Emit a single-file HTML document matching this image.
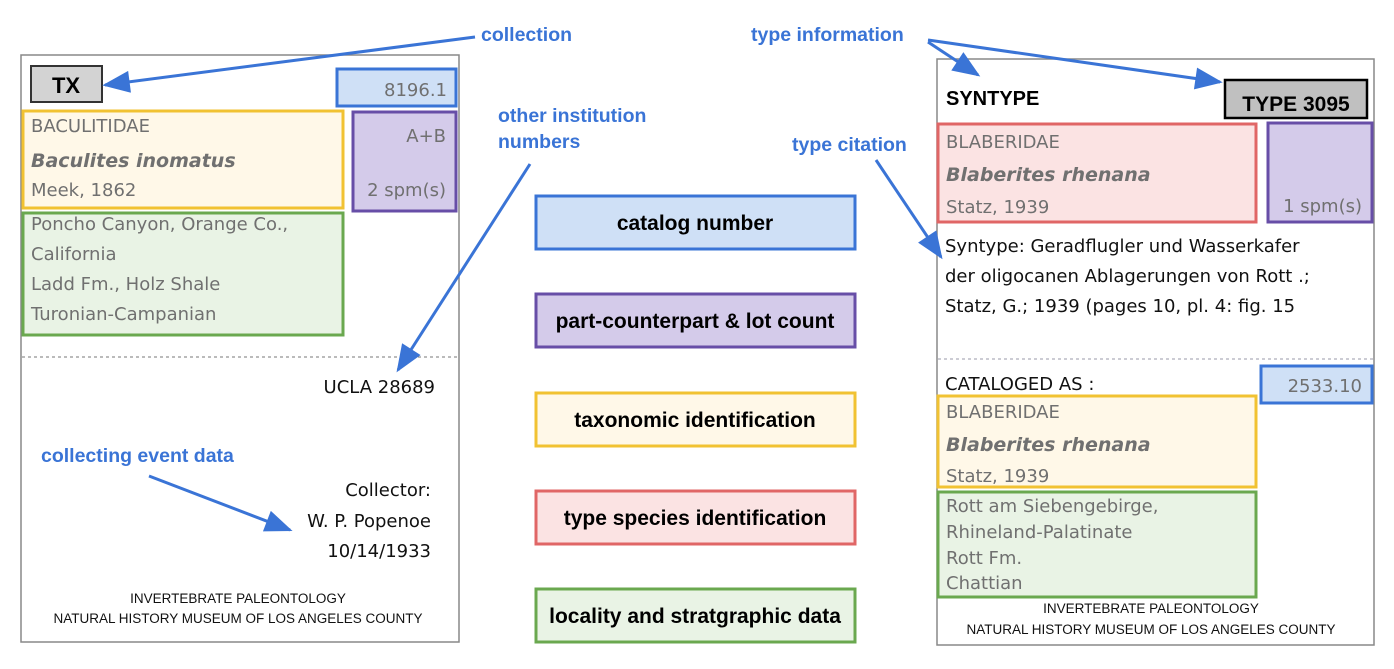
<!DOCTYPE html>
<html><head><style>
html,body{margin:0;padding:0;background:#fff}
svg{display:block}
.b{font-family:"Liberation Sans",sans-serif;font-weight:bold;fill:#3a74d6;font-size:19.5px}
.c{font-family:"Liberation Sans",sans-serif;font-weight:bold;fill:#000;font-size:21px}
.g{font-family:"DejaVu Sans","Liberation Sans",sans-serif;fill:#707070;font-size:18px}
.gi{font-family:"DejaVu Sans","Liberation Sans",sans-serif;fill:#707070;font-size:19px;font-weight:bold;font-style:italic}
.k{font-family:"DejaVu Sans","Liberation Sans",sans-serif;fill:#111;font-size:18px}
.f{font-family:"Liberation Sans",sans-serif;fill:#111;font-size:13.5px}
</style></head><body>
<svg width="1394" height="669" viewBox="0 0 1394 669" xmlns="http://www.w3.org/2000/svg">
<defs>
<marker id="m" viewBox="0 0 10 8" refX="9" refY="4" markerWidth="28" markerHeight="22" orient="auto" markerUnits="userSpaceOnUse"><path d="M0,0 L10,4 L0,8z" fill="#3a74d6"/></marker></defs>

<!-- left card -->
<rect x="21" y="55" width="438" height="587" fill="#fff" stroke="#888" stroke-width="1.5"/>
<rect x="31" y="66" width="71" height="36" fill="#d3d3d3" stroke="#333" stroke-width="2"/>
<text x="66" y="93" text-anchor="middle" font-family="Liberation Sans" font-weight="bold" font-size="22">TX</text>
<rect x="337" y="69" width="119" height="37" fill="#cfe0f6" stroke="#3a74d6" stroke-width="3"/>
<text x="447" y="96" text-anchor="end" class="g" fill="#606a7a" font-size="20">8196.1</text>
<rect x="23" y="111" width="320" height="97" fill="#fff8e8" stroke="#f1c232" stroke-width="3"/>
<text x="31" y="132" class="g">BACULITIDAE</text>
<text x="31" y="167" class="gi">Baculites inomatus</text>
<text x="31" y="196" class="g">Meek, 1862</text>
<rect x="353" y="112" width="103" height="99" fill="#d4cbea" stroke="#674ea7" stroke-width="3"/>
<text x="446" y="142" text-anchor="end" class="g">A+B</text>
<text x="446" y="196" text-anchor="end" class="g">2 spm(s)</text>
<rect x="23" y="213" width="320" height="122" fill="#e9f3e5" stroke="#6aa84f" stroke-width="3"/>
<text x="31" y="230" class="g">Poncho Canyon, Orange Co.,</text>
<text x="31" y="260" class="g">California</text>
<text x="31" y="290" class="g">Ladd Fm., Holz Shale</text>
<text x="31" y="320" class="g">Turonian-Campanian</text>
<line x1="22" y1="357" x2="458" y2="357" stroke="#777" stroke-dasharray="3,3"/>
<text x="435" y="393" text-anchor="end" class="k">UCLA 28689</text>
<text x="431" y="496" text-anchor="end" class="k">Collector:</text>
<text x="431" y="527" text-anchor="end" class="k">W. P. Popenoe</text>
<text x="431" y="557" text-anchor="end" class="k">10/14/1933</text>
<text x="238" y="603" text-anchor="middle" class="f">INVERTEBRATE PALEONTOLOGY</text>
<text x="238" y="623" text-anchor="middle" class="f">NATURAL HISTORY MUSEUM OF LOS ANGELES COUNTY</text>

<!-- center legend -->
<rect x="536" y="196" width="319" height="53" fill="#cfe0f6" stroke="#3a74d6" stroke-width="3"/>
<text x="695" y="230" text-anchor="middle" class="c">catalog number</text>
<rect x="536" y="294" width="319" height="53" fill="#d4cbea" stroke="#674ea7" stroke-width="3"/>
<text x="695" y="328" text-anchor="middle" class="c">part-counterpart &amp; lot count</text>
<rect x="536" y="393" width="319" height="53" fill="#fff8e8" stroke="#f1c232" stroke-width="3"/>
<text x="695" y="427" text-anchor="middle" class="c">taxonomic identification</text>
<rect x="536" y="491" width="319" height="53" fill="#fbe3e3" stroke="#e06666" stroke-width="3"/>
<text x="695" y="525" text-anchor="middle" class="c">type species identification</text>
<rect x="536" y="589" width="319" height="53" fill="#e9f3e5" stroke="#6aa84f" stroke-width="3"/>
<text x="695" y="623" text-anchor="middle" class="c">locality and stratgraphic data</text>

<!-- right card -->
<rect x="937" y="59" width="437" height="586" fill="#fff" stroke="#888" stroke-width="1.5"/>
<text x="946" y="105" font-family="Liberation Sans" font-weight="bold" font-size="20">SYNTYPE</text>
<rect x="1225" y="80" width="142" height="38" fill="#c0c0c0" stroke="#000" stroke-width="2.5"/>
<text x="1296" y="111" text-anchor="middle" font-family="Liberation Sans" font-weight="bold" font-size="21">TYPE 3095</text>
<rect x="938" y="124" width="318" height="98" fill="#fbe3e3" stroke="#e06666" stroke-width="3"/>
<text x="946" y="148" class="g">BLABERIDAE</text>
<text x="946" y="181" class="gi">Blaberites rhenana</text>
<text x="946" y="213" class="g">Statz, 1939</text>
<rect x="1268" y="123" width="104" height="99" fill="#d4cbea" stroke="#674ea7" stroke-width="3"/>
<text x="1362" y="212" text-anchor="end" class="g">1 spm(s)</text>
<text x="945" y="252" class="k">Syntype: Geradflugler und Wasserkafer</text>
<text x="945" y="282" class="k">der oligocanen Ablagerungen von Rott .;</text>
<text x="945" y="312" class="k">Statz, G.; 1939 (pages 10, pl. 4: fig. 15</text>
<line x1="938" y1="359" x2="1373" y2="359" stroke="#99a" stroke-dasharray="3,3"/>
<text x="945" y="390" class="k">CATALOGED AS :</text>
<rect x="1261" y="366" width="111" height="37" fill="#cfe0f6" stroke="#3a74d6" stroke-width="3"/>
<text x="1362" y="392" text-anchor="end" class="g" font-size="20">2533.10</text>
<rect x="938" y="396" width="318" height="91" fill="#fff8e8" stroke="#f1c232" stroke-width="3"/>
<text x="946" y="418" class="g">BLABERIDAE</text>
<text x="946" y="451" class="gi">Blaberites rhenana</text>
<text x="946" y="482" class="g">Statz, 1939</text>
<rect x="938" y="492" width="318" height="105" fill="#e9f3e5" stroke="#6aa84f" stroke-width="3"/>
<text x="946" y="512" class="g">Rott am Siebengebirge,</text>
<text x="946" y="538" class="g">Rhineland-Palatinate</text>
<text x="946" y="564" class="g">Rott Fm.</text>
<text x="946" y="589" class="g">Chattian</text>
<text x="1151" y="613" text-anchor="middle" class="f">INVERTEBRATE PALEONTOLOGY</text>
<text x="1151" y="634" text-anchor="middle" class="f">NATURAL HISTORY MUSEUM OF LOS ANGELES COUNTY</text>

<!-- annotation labels -->
<text x="481" y="41" class="b">collection</text>
<text x="498" y="122" class="b">other institution</text>
<text x="498" y="148" class="b">numbers</text>
<text x="41" y="462" class="b">collecting event data</text>
<text x="751" y="41" class="b">type information</text>
<text x="792" y="151" class="b">type citation</text>

<!-- arrows -->
<g stroke="#3a74d6" stroke-width="3" fill="none">
<line x1="475" y1="37" x2="105" y2="85" marker-end="url(#m)"/>
<line x1="530" y1="164" x2="398" y2="370" marker-end="url(#m)"/>
<line x1="149" y1="476" x2="290" y2="530" marker-end="url(#m)"/>
<line x1="928" y1="42" x2="978" y2="75" marker-end="url(#m)"/>
<line x1="928" y1="40" x2="1220" y2="82" marker-end="url(#m)"/>
<line x1="876" y1="160" x2="941" y2="257" marker-end="url(#m)"/>
</g>
</svg>
</body></html>
